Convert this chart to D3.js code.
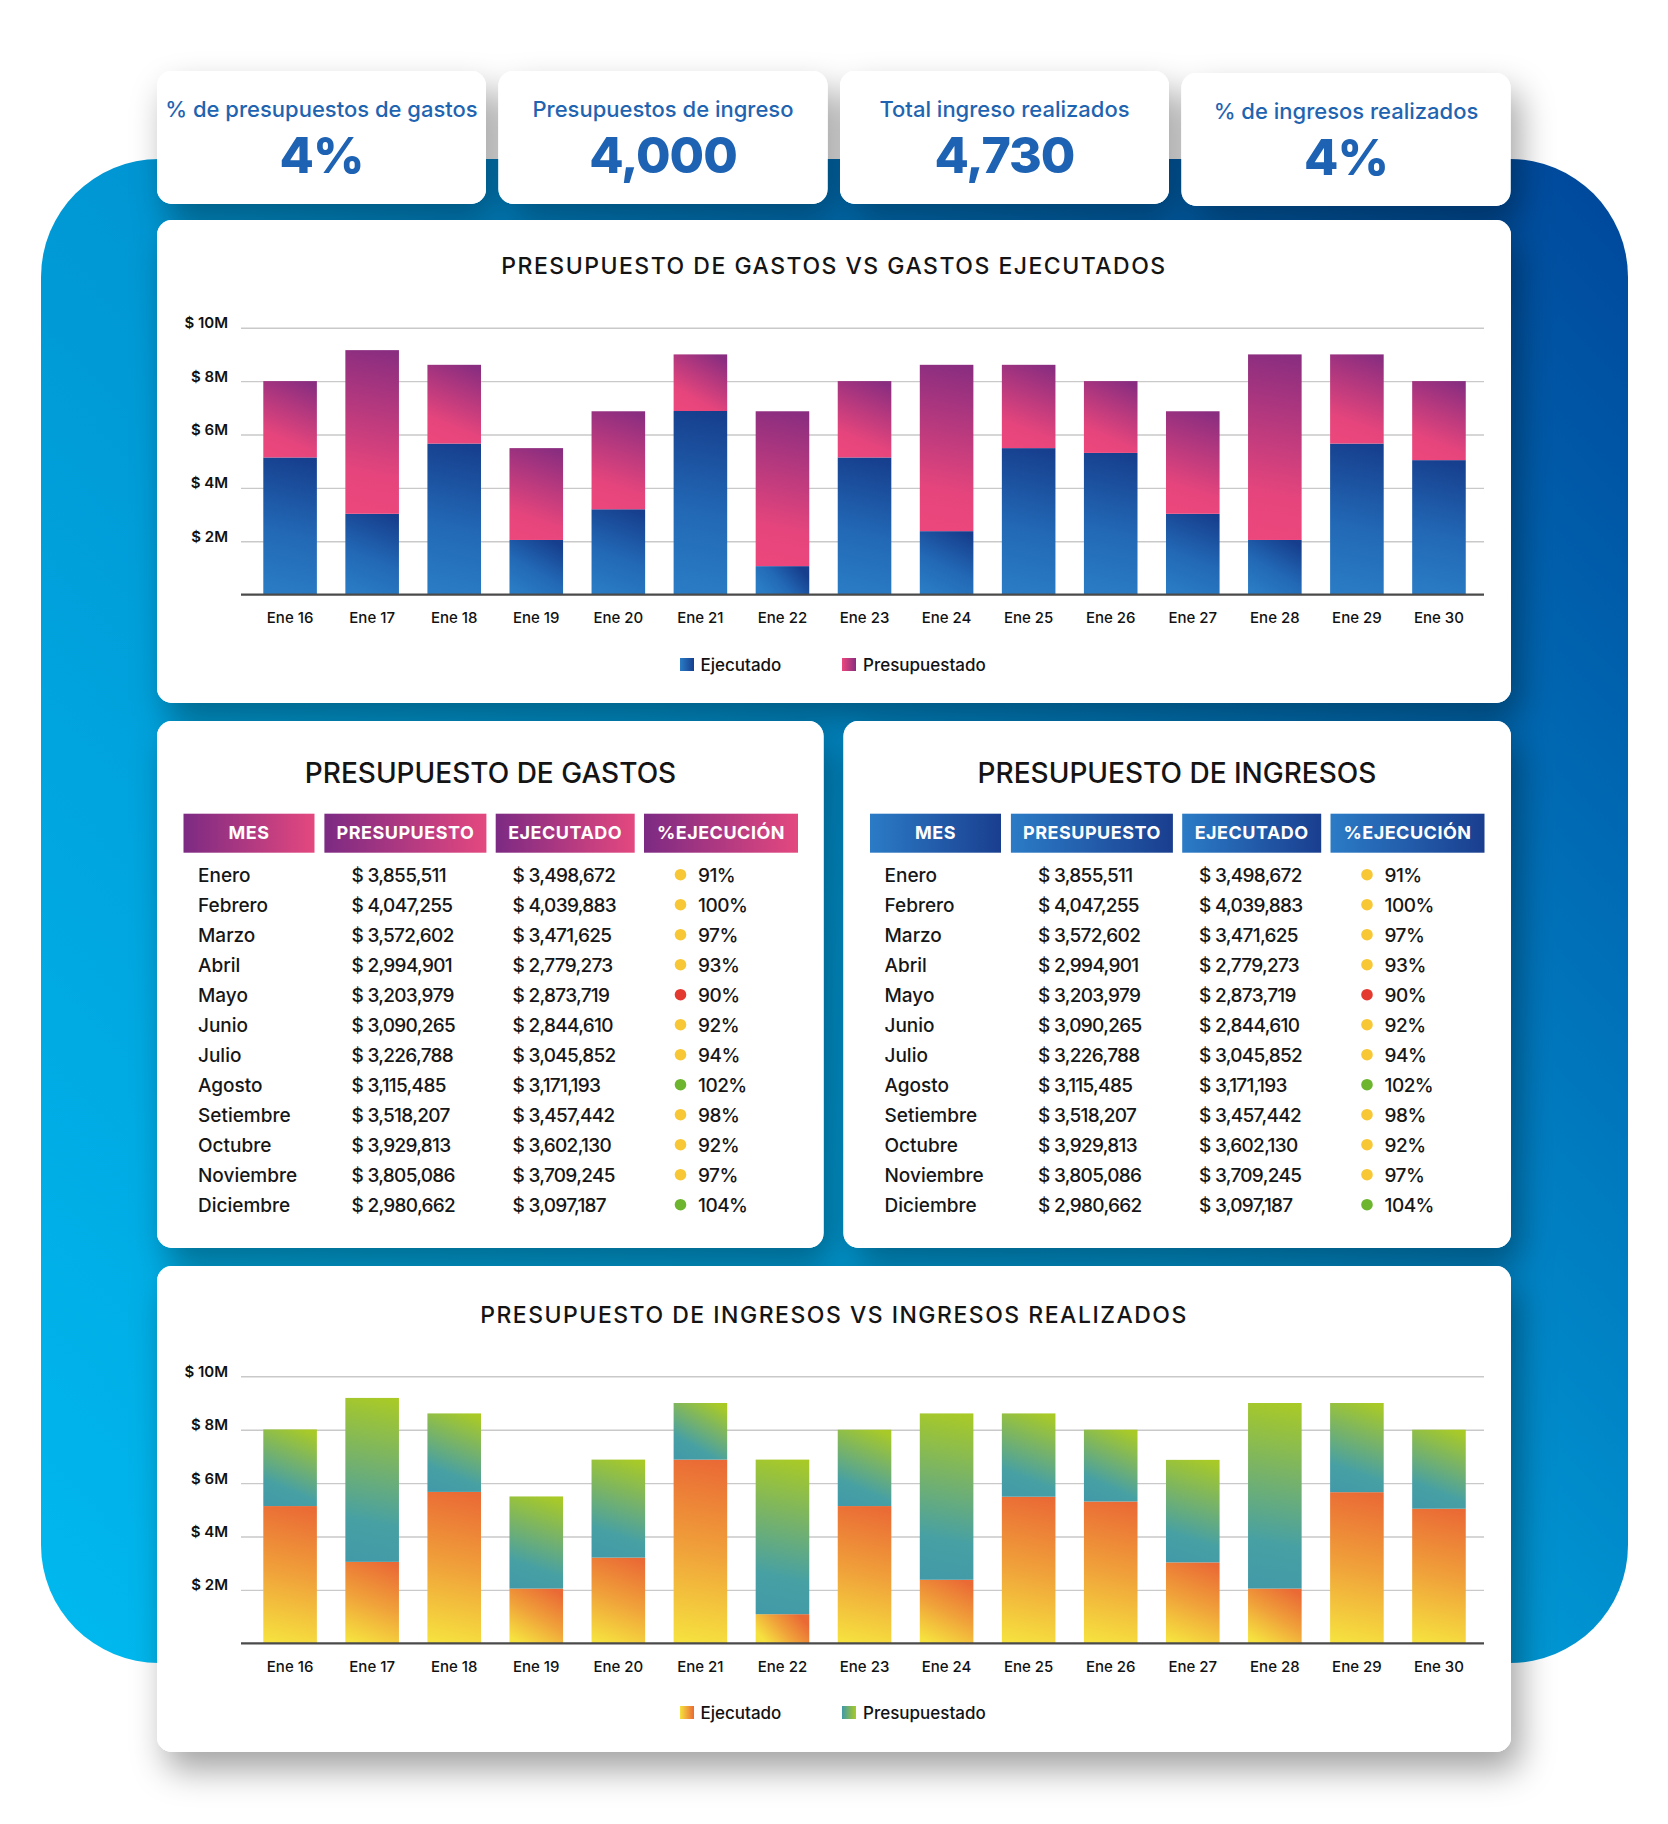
<!DOCTYPE html>
<html lang="es">
<head>
<meta charset="UTF-8">
<title>Presupuesto de gastos e ingresos</title>
<script src="https://d3js.org/d3.v7.min.js"></script>
<style>
  body { margin: 0; background: #fff; }
  svg { display: block; font-family: Inter, "Open Sans", sans-serif; }
</style>
</head>
<body>
<svg id="dash" width="1668" height="1824"></svg>
<script>
// ---- datos ----
const dias = ["Ene 16", "Ene 17", "Ene 18", "Ene 19", "Ene 20", "Ene 21", "Ene 22", "Ene 23",
              "Ene 24", "Ene 25", "Ene 26", "Ene 27", "Ene 28", "Ene 29", "Ene 30"];
// millones
const gastosEjecutado     = [5.14, 3.03, 5.66, 2.05, 3.20, 6.88, 1.07, 5.14, 2.38, 5.49, 5.31, 3.03, 2.05, 5.66, 5.04];
const gastosPresupuestado = [2.86, 6.13, 2.95, 3.44, 3.67, 2.12, 5.80, 2.86, 6.23, 3.12, 2.69, 3.84, 6.95, 3.34, 2.96];
const ingresosRealizado     = [5.14, 3.05, 5.67, 2.05, 3.21, 6.88, 1.09, 5.14, 2.38, 5.49, 5.31, 3.03, 2.05, 5.66, 5.04];
const ingresosPresupuestado = [2.87, 6.14, 2.94, 3.45, 3.67, 2.12, 5.79, 2.86, 6.23, 3.12, 2.69, 3.84, 6.95, 3.34, 2.96];
const yTicks = [2, 4, 6, 8, 10];

const kpiTitulos = ["% de presupuestos de gastos", "Presupuestos de ingreso", "Total ingreso realizados", "% de ingresos realizados"];
const kpiValores = ["4%", "4,000", "4,730", "4%"];

const columnas = ["MES", "PRESUPUESTO", "EJECUTADO", "%EJECUCIÓN"];
const meses = ["Enero", "Febrero", "Marzo", "Abril", "Mayo", "Junio", "Julio", "Agosto",
               "Setiembre", "Octubre", "Noviembre", "Diciembre"];
const presupuesto = [3855511, 4047255, 3572602, 2994901, 3203979, 3090265, 3226788, 3115485, 3518207, 3929813, 3805086, 2980662];
const ejecutado   = [3498672, 4039883, 3471625, 2779273, 2873719, 2844610, 3045852, 3171193, 3457442, 3602130, 3709245, 3097187];
const ejecucion   = [91, 100, 97, 93, 90, 92, 94, 102, 98, 92, 97, 104];

// ---- dibujo ----
const svg = d3.select("#dash");
const defs = svg.append("defs");
const fmt = d3.format(",");

const sombra = defs.append("filter").attr("id", "sombra")
    .attr("x", "-20%").attr("y", "-20%").attr("width", "145%").attr("height", "145%");
sombra.append("feDropShadow").attr("dx", 9).attr("dy", 18).attr("stdDeviation", 17)
    .attr("flood-color", "#000").attr("flood-opacity", 0.36);

function gradiente(id, stops, x1, y1, x2, y2, user) {
    const g = defs.append("linearGradient").attr("id", id)
        .attr("x1", x1).attr("y1", y1).attr("x2", x2).attr("y2", y2);
    if (user) g.attr("gradientUnits", "userSpaceOnUse");
    stops.forEach(s => g.append("stop").attr("offset", s[0]).attr("stop-color", s[1]));
    return `url(#${id})`;
}

// fondo azul
svg.append("rect")
    .attr("x", 41).attr("y", 159).attr("width", 1587).attr("height", 1504).attr("rx", 118)
    .attr("fill", gradiente("fondo", [[0, "#00b9ef"], [0.5, "#0096d3"], [1, "#00469a"]], 41, 1663, 1628, 159, true));

// tarjetas
const tarjetas = [];
for (let i = 0; i < 4; i++) tarjetas.push([157 + i * 341.5, i === 3 ? 73 : 71, 329, 133]);
tarjetas.push([157, 220, 1354, 483]);
tarjetas.push([157, 721, 666.5, 527]);
tarjetas.push([843.5, 721, 667.5, 527]);
tarjetas.push([157, 1266, 1354, 486]);

svg.append("g").attr("filter", "url(#sombra)")
  .selectAll("rect").data(tarjetas).join("rect")
    .attr("x", d => d[0]).attr("y", d => d[1]).attr("width", d => d[2]).attr("height", d => d[3])
    .attr("rx", 15).attr("fill", "#fff");
svg.append("g")
  .selectAll("rect").data(tarjetas).join("rect")
    .attr("x", d => d[0]).attr("y", d => d[1]).attr("width", d => d[2]).attr("height", d => d[3])
    .attr("rx", 15).attr("fill", "#fff");

// KPIs
kpiTitulos.forEach((t, i) => {
    const cx = 157 + i * 341.5 + 164.5;
    const dy = i === 3 ? 2 : 0;
    svg.append("text").text(t)
        .attr("x", cx).attr("y", 117 + dy).attr("text-anchor", "middle")
        .attr("font-size", 22).attr("font-weight", 500).attr("fill", "#1f64b1");
    svg.append("text").text(kpiValores[i])
        .attr("x", cx).attr("y", 173 + dy).attr("text-anchor", "middle")
        .attr("font-size", 50).attr("font-weight", 800).attr("letter-spacing", -1).attr("fill", "#1e63b3");
});

// gráficos de barras apiladas
const x0 = 241, x1 = 1484;

function grafico(cfg) {
    const g = svg.append("g");
    const data = dias.map((d, i) => ({ dia: d, ejec: cfg.ejec[i], pres: cfg.pres[i] }));
    const series = d3.stack().keys(["ejec", "pres"])(data);

    const x = d3.scaleBand().domain(dias).range([x0, x1])
        .paddingInner(0.347).paddingOuter(0.247).align(0.55);
    const y = d3.scaleLinear().domain([0, 10]).range([cfg.base, cfg.base - 267]);

    g.append("text").text(cfg.titulo)
        .attr("x", 834).attr("y", cfg.tituloY).attr("text-anchor", "middle")
        .attr("font-size", 23).attr("font-weight", 500).attr("letter-spacing", 1.5).attr("fill", "#141414");

    const gy = g.append("g").attr("transform", `translate(${x0},0)`)
        .call(d3.axisLeft(y).tickValues(yTicks).tickSize(-(x1 - x0)).tickPadding(13).tickFormat(d => `$ ${d}M`));
    gy.attr("font-family", null).attr("font-size", null);
    gy.select(".domain").remove();
    gy.selectAll("line").attr("stroke", "#c9c9c9").attr("stroke-width", 1.4);
    gy.selectAll("text").attr("dy", "0").attr("font-size", 15).attr("font-weight", 600).attr("fill", "#111");

    series.forEach((s, k) => {
        const stops = cfg.colores[k];
        g.append("g").selectAll("rect").data(s).join("rect")
            .attr("x", d => x(d.data.dia))
            .attr("y", d => y(d[1]))
            .attr("width", x.bandwidth())
            .attr("height", d => y(d[0]) - y(d[1]))
            .attr("fill", (d, i) => {
                const bx = x(d.data.dia), by = y(d[1]), bw = x.bandwidth(), bh = y(d[0]) - y(d[1]);
                return gradiente(`${cfg.id}-${k}-${i}`, stops, bx + bw * 0.2, by + bh, bx + bw * 0.8, by, true);
            });
    });

    g.append("line").attr("x1", x0).attr("x2", x1).attr("y1", y(0)).attr("y2", y(0))
        .attr("stroke", "#4a4a4a").attr("stroke-width", 2.2);

    const gx = g.append("g").attr("transform", `translate(0,${y(0)})`)
        .call(d3.axisBottom(x).tickSize(0));
    gx.attr("font-family", null).attr("font-size", null);
    gx.select(".domain").remove();
    gx.selectAll("text").attr("y", 28.6).attr("dy", "0")
        .attr("font-size", 15).attr("font-weight", 500).attr("fill", "#111");

    const ley = [["Ejecutado", 680, 700.5], ["Presupuestado", 842, 863]];
    ley.forEach((l, k) => {
        const st = cfg.colores[k];
        g.append("rect").attr("x", l[1]).attr("y", cfg.leyendaY).attr("width", 14).attr("height", 13)
            .attr("fill", gradiente(`${cfg.id}-ley-${k}`, [[0, st[0][1]], [1, st[st.length - 1][1]]], 0, 0, 1, 0));
        g.append("text").text(l[0]).attr("x", l[2]).attr("y", cfg.leyendaY + 12.5)
            .attr("font-size", 17).attr("font-weight", 500).attr("fill", "#111");
    });
}

grafico({
    id: "gas", titulo: "PRESUPUESTO DE GASTOS VS GASTOS EJECUTADOS",
    ejec: gastosEjecutado, pres: gastosPresupuestado,
    tituloY: 274, base: 594.7, leyendaY: 658,
    colores: [
        [[0, "#2a7cc5"], [0.45, "#2268b5"], [1, "#163e8d"]],
        [[0, "#ec477d"], [0.25, "#e5457c"], [1, "#892d80"]]
    ]
});

grafico({
    id: "ing", titulo: "PRESUPUESTO DE INGRESOS VS INGRESOS REALIZADOS",
    ejec: ingresosRealizado, pres: ingresosPresupuestado,
    tituloY: 1323.3, base: 1643.3, leyendaY: 1706,
    colores: [
        [[0, "#f6e23f"], [0.5, "#f0a13a"], [1, "#ea6935"]],
        [[0, "#429aa8"], [0.25, "#47a0a3"], [0.6, "#76b26a"], [1, "#a9ca26"]]
    ]
});

// tablas
const colX = [26.5, 167.4, 338.7, 487];
const colW = [131, 162, 139, 154];

function punto(p) {
    if (p <= 90) return "#e4392f";
    if (p > 100) return "#6db42f";
    return "#f8c736";
}

function tabla(left, titulo, id, stops) {
    const g = svg.append("g").attr("transform", `translate(${left},0)`);
    g.append("text").text(titulo).attr("x", 333.5).attr("y", 783.3).attr("text-anchor", "middle")
        .attr("font-size", 28).attr("font-weight", 500).attr("fill", "#141414");

    const fill = gradiente(`${id}-cab`, stops, 0, 0, 1, 0);
    columnas.forEach((c, j) => {
        g.append("rect").attr("x", colX[j]).attr("y", 813.7).attr("width", colW[j]).attr("height", 39)
            .attr("fill", fill);
        g.append("text").text(c).attr("x", colX[j] + colW[j] / 2).attr("y", 839)
            .attr("text-anchor", "middle").attr("font-size", 18).attr("font-weight", 700)
            .attr("letter-spacing", 0.5).attr("fill", "#fff");
    });

    const filas = g.append("g").attr("font-size", 19).attr("font-weight", 500).attr("fill", "#161616");
    meses.forEach((m, i) => {
        const yy = 881.7 + i * 30;
        filas.append("text").text(m).attr("x", 41).attr("y", yy);
        filas.append("text").text("$ " + fmt(presupuesto[i])).attr("x", 194.5).attr("y", yy).attr("letter-spacing", -0.7);
        filas.append("text").text("$ " + fmt(ejecutado[i])).attr("x", 355.5).attr("y", yy).attr("letter-spacing", -0.7);
        filas.append("circle").attr("cx", 523.5).attr("cy", yy - 7).attr("r", 5.8).attr("fill", punto(ejecucion[i]));
        filas.append("text").text(ejecucion[i] + "%").attr("x", 541).attr("y", yy).attr("letter-spacing", -0.5);
    });
}

tabla(157, "PRESUPUESTO DE GASTOS", "tg", [[0, "#7c2a83"], [1, "#e4487f"]]);
tabla(843.5, "PRESUPUESTO DE INGRESOS", "ti", [[0, "#2b7bc6"], [1, "#1a3e8f"]]);
</script>
</body>
</html>
